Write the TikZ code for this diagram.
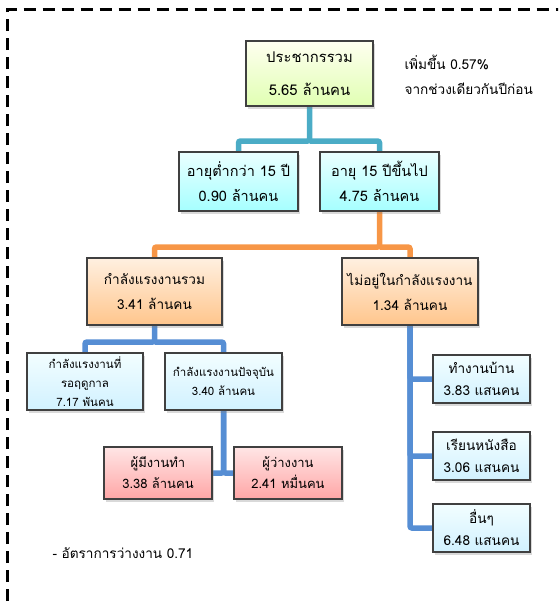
\documentclass[tikz,border=0pt]{standalone}
\usepackage{fontspec}
\setmainfont[Script=Thai]{Loma}
\usetikzlibrary{shadows,backgrounds,calc}
\definecolor{boxline}{HTML}{404040}
\definecolor{linkcyan}{HTML}{4BACC6}
\definecolor{linkorange}{HTML}{F79646}
\definecolor{linkblue}{HTML}{568ED4}
\tikzset{
  box/.style={draw=boxline, line width=1.2pt, align=center, inner sep=1pt,
    drop shadow={opacity=.3, shadow xshift=1.5pt, shadow yshift=-2.5pt}},
  greenbox/.style={box, top color=green!4!yellow!6, bottom color=green!40!yellow!30!white},
  cyanbox/.style={box, top color=cyan!8, bottom color=cyan!35},
  orangebox/.style={box, top color=orange!12, bottom color=orange!45!white},
  bluebox/.style={box, top color=blue!10!cyan!5, bottom color=blue!30!cyan!18},
  pinkbox/.style={box, top color=red!10, bottom color=red!35},
  link/.style={line width=5.5pt, rounded corners=2pt},
  outerframe/.style={line width=3pt, dash pattern=on 12pt off 7pt}
}
\begin{document}
\begin{tikzpicture}[x=1pt,y=-1pt]
  \useasboundingbox (0,0) rectangle (558,606);
  \begin{scope}
    \clip (0,0) rectangle (558,606);
    \draw[outerframe] (7.5,620) -- (7.5,9) -- (570,9);
  \end{scope}

  \node[greenbox, minimum width=127, minimum height=65, font=\fontsize{14.8}{33}\selectfont]
    (pop) at (309.5,73.5) {ประชากรรวม\\5.65 ล้านคน};
  \node[cyanbox, minimum width=119, minimum height=59, font=\fontsize{14.5}{25}\selectfont]
    (young) at (238.5,181.5) {อายุต่ำกว่า 15 ปี\\0.90 ล้านคน};
  \node[cyanbox, minimum width=119, minimum height=59, font=\fontsize{14.5}{25}\selectfont]
    (adult) at (379.5,181.5) {อายุ 15 ปีขึ้นไป\\4.75 ล้านคน};
  \node[orangebox, minimum width=135, minimum height=67, font=\fontsize{13.6}{25}\selectfont]
    (labour) at (154.5,291.5) {กำลังแรงงานรวม\\3.41 ล้านคน};
  \node[orangebox, minimum width=136, minimum height=67, font=\fontsize{13.6}{25}\selectfont]
    (outside) at (410,291.5) {ไม่อยู่ในกำลังแรงงาน\\1.34 ล้านคน};
  \node[bluebox, minimum width=116, minimum height=57, font=\fontsize{11.5}{19}\selectfont]
    (seasonal) at (85,381.5) {กำลังแรงงานที่\\รอฤดูกาล\\7.17 พันคน};
  \node[bluebox, minimum width=117, minimum height=57, font=\fontsize{11.5}{19}\selectfont]
    (current) at (223.5,381.5) {กำลังแรงงานปัจจุบัน\\3.40 ล้านคน};
  \node[pinkbox, minimum width=108, minimum height=52, font=\fontsize{13}{21}\selectfont]
    (employed) at (158,473) {ผู้มีงานทำ\\3.38 ล้านคน};
  \node[pinkbox, minimum width=108, minimum height=52, font=\fontsize{13}{21}\selectfont]
    (unemployed) at (288,473) {ผู้ว่างงาน\\2.41 หมื่นคน};
  \node[bluebox, minimum width=97, minimum height=48, font=\fontsize{13.6}{22}\selectfont]
    (housework) at (481.5,379) {ทำงานบ้าน\\3.83 แสนคน};
  \node[bluebox, minimum width=97, minimum height=48, font=\fontsize{13.6}{22}\selectfont]
    (study) at (481.5,456) {เรียนหนังสือ\\3.06 แสนคน};
  \node[bluebox, minimum width=97, minimum height=48, font=\fontsize{13.6}{22}\selectfont]
    (other) at (481.5,528) {อื่นๆ\\6.48 แสนคน};

  \node[anchor=west, font=\fontsize{13.6}{16}\selectfont] (growth) at (401,62) {เพิ่มขึ้น 0.57\%};
  \node[anchor=west, font=\fontsize{13.6}{16}\selectfont] (period) at (401,89) {จากช่วงเดียวกันปีก่อน};
  \node[anchor=west, font=\fontsize{13.6}{16}\selectfont] (rate) at (49,553) {- อัตราการว่างงาน 0.71};

  \begin{scope}[on background layer]
    \coordinate (j1) at (309.5,141);
    \coordinate (j2) at (379.5,247);
    \coordinate (j3) at (154.5,342);
    \draw[link, linkcyan] (pop.south) -- (j1) -| (young.north);
    \draw[link, linkcyan] (j1) -| (adult.north);
    \draw[link, linkorange] (adult.south) -- (j2) -| (labour.north);
    \draw[link, linkorange] (j2) -| (outside.north);
    \draw[link, linkblue] (labour.south) -- (j3) -| (seasonal.north);
    \draw[link, linkblue] (j3) -| (current.north);
    \draw[link, linkblue] (current.south) |- (employed.east);
    \draw[link, linkblue] (current.south) |- (unemployed.west);
    \draw[link, linkblue] (outside.south) |- (housework.west);
    \draw[link, linkblue] (outside.south) |- (study.west);
    \draw[link, linkblue] (outside.south) |- (other.west);
  \end{scope}
\end{tikzpicture}
\end{document}
